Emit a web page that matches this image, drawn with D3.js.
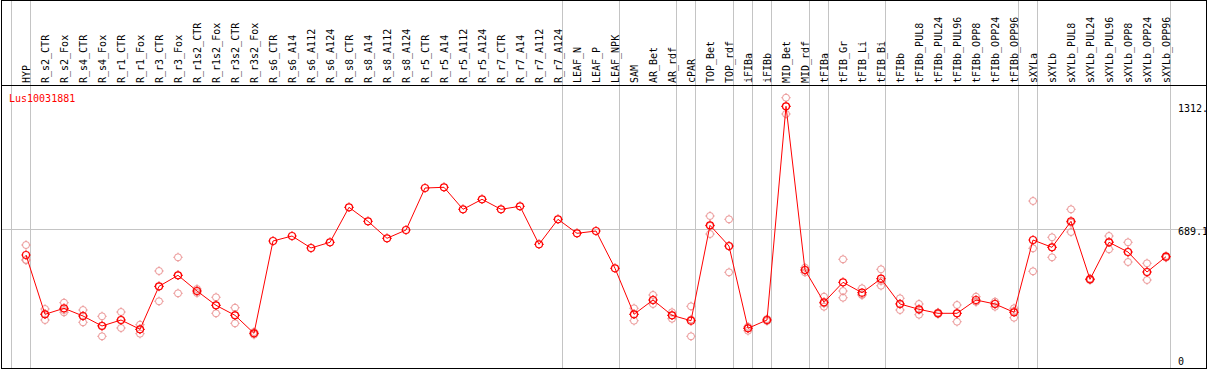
<!DOCTYPE html>
<html>
<head>
<meta charset="utf-8">
<script src="https://cdn.jsdelivr.net/npm/d3@7/dist/d3.min.js"></script>
<style>
  html, body { margin: 0; padding: 0; background: #fff; }
  svg text { font-family: "DejaVu Sans Mono", "Liberation Mono", monospace; font-size: 10px; }
</style>
</head>
<body>
<div id="chart"></div>
<script>

// gene shown in the plot
var geneName = "Lus10031881";

// sample names, left to right
var samples = [
  "HYP", "R_s2_CTR", "R_s2_Fox", "R_s4_CTR", "R_s4_Fox", "R_r1_CTR", "R_r1_Fox",
  "R_r3_CTR", "R_r3_Fox", "R_r1s2_CTR", "R_r1s2_Fox", "R_r3s2_CTR", "R_r3s2_Fox",
  "R_s6_CTR", "R_s6_A14", "R_s6_A112", "R_s6_A124", "R_s8_CTR", "R_s8_A14",
  "R_s8_A112", "R_s8_A124", "R_r5_CTR", "R_r5_A14", "R_r5_A112", "R_r5_A124",
  "R_r7_CTR", "R_r7_A14", "R_r7_A112", "R_r7_A124", "LEAF_N", "LEAF_P", "LEAF_NPK",
  "SAM", "AR_Bet", "AR_rdf", "cPAR", "TOP_Bet", "TOP_rdf", "iFIBa", "iFIBb",
  "MID_Bet", "MID_rdf", "tFIBa", "tFIB_Gr", "tFIB_Li", "tFIB_Bi", "tFIBb",
  "tFIBb_PUL8", "tFIBb_PUL24", "tFIBb_PUL96", "tFIBb_OPP8", "tFIBb_OPP24", "tFIBb_OPP96",
  "sXYLa", "sXYLb", "sXYLb_PUL8", "sXYLb_PUL24", "sXYLb_PUL96", "sXYLb_OPP8",
  "sXYLb_OPP24", "sXYLb_OPP96"
];

// first sample of every tissue group (a grey separator is drawn before each)
var groupStarts = [
  "HYP", "R_s2_CTR", "LEAF_N", "SAM", "cPAR", "TOP_Bet", "iFIBa", "iFIBb",
  "MID_Bet", "tFIBa", "tFIB_Gr", "tFIBb", "sXYLa", "sXYLb"
];

// mean expression per sample
var means = [
  554.9, 253.0, 283.6, 244.4, 193.5, 224.0, 176.7, 395.6, 451.6, 371.6, 298.8, 247.9, 156.3,
  626.2, 651.6, 590.6, 619.6, 797.8, 726.5, 639.9, 682.2, 896.0, 899.6, 787.6, 838.5,
  787.6, 802.9, 609.4, 736.7, 665.4, 677.1, 487.2,
  253.0, 325.8, 247.9, 220.4, 706.1, 600.7, 181.7, 224.0, 1312.0, 478.6,
  314.1, 415.9, 363.0, 434.3, 305.5, 278.5, 258.1, 258.1, 325.8, 305.5, 263.2,
  631.3, 594.1, 726.5, 431.2, 619.6, 570.2, 468.4, 546.3
];

// individual replicates per sample (empty where only one sample exists)
var replicates = [
  [605.8, 529.5, 529.5], [280.0, 254.6, 224.0], [312.1, 274.9, 263.2], [274.9, 244.4, 212.3],
  [242.8, 196.0, 141.0], [264.7, 224.0, 183.3], [200.1, 175.6, 154.3], [473.5, 393.5, 319.2],
  [543.2, 451.6, 359.9], [381.8, 371.6, 361.5], [339.6, 298.8, 258.1], [286.6, 249.5, 207.2],
  [162.9, 156.3, 149.2],
  [], [], [], [], [], [], [], [], [], [], [], [], [], [], [], [], [], [], [],
  [283.6, 253.0, 220.4], [351.3, 325.8, 305.5], [263.2, 247.9, 230.6], [293.7, 226.5, 141.0],
  [753.5, 702.6, 661.8], [736.7, 599.2, 466.8], [189.9, 183.3, 169.5], [229.1, 224.0, 218.9],
  [1355.7, 1312.0, 1272.8], [490.3, 478.6, 466.8],
  [342.6, 308.0, 291.7], [533.0, 371.6, 337.5], [385.4, 352.8, 351.3], [482.1, 422.6, 398.6],
  [334.5, 307.0, 274.9], [305.5, 274.9, 251.0], [262.2, 258.1, 254.0], [300.4, 258.1, 215.3],
  [342.6, 317.2, 317.2], [317.2, 307.5, 291.7], [283.6, 269.8, 235.7],
  [829.8, 589.0, 471.9], [645.0, 594.1, 543.2], [787.6, 719.4, 672.0], [435.3, 431.2, 427.1],
  [651.6, 622.6, 583.9], [619.6, 570.2, 519.3], [512.7, 468.4, 427.6], [550.8, 546.3, 541.7]
];

// labels on the right hand side
var axisTicks = [0, 689.1, 1312];
var axisLabels = ["0", "689.1", "1312."];

;(function() {

  var width = 1209, height = 370;
  var headerBottom = 85.5;   // line under the sample names
  var plotRight = 1206.5;

  var svg = d3.select("#chart").append("svg")
      .attr("width", width)
      .attr("height", height);

  svg.append("defs").append("clipPath")
      .attr("id", "frame-clip")
    .append("rect")
      .attr("x", 2)
      .attr("y", 1)
      .attr("width", plotRight - 2)
      .attr("height", 367);

  var root = svg.append("g").attr("clip-path", "url(#frame-clip)");

  // one 19px column per sample
  var x = d3.scaleBand()
      .domain(samples)
      .range([11.5, 11.5 + samples.length * 19]);

  var px = function(name) { return x(name) + 14.5; };

  var y = d3.scaleLinear()
      .domain([0, 1312])
      .range([364, 106.3]);

  // group separators, full height
  var sepX = groupStarts.map(function(s) { return Math.floor(x(s)) + 0.5; });
  sepX.push(Math.floor(x.range()[1]) + 0.5);

  root.selectAll("line.sep")
      .data(sepX)
      .enter()
    .append("line")
      .attr("class", "sep")
      .attr("x1", function(d) { return d; })
      .attr("x2", function(d) { return d; })
      .attr("y1", 0)
      .attr("y2", 369)
      .style("stroke", "#c4c4c4")
      .style("stroke-width", 1);

  // middle reference line
  root.append("line")
      .attr("x1", 2)
      .attr("x2", plotRight)
      .attr("y1", Math.round(y(axisTicks[1])) + 0.5)
      .attr("y2", Math.round(y(axisTicks[1])) + 0.5)
      .style("stroke", "#c4c4c4")
      .style("stroke-width", 1);

  // sample names, rotated, reading upward from the header line
  root.append("g").selectAll("text")
      .data(samples)
      .enter()
    .append("text")
      .attr("transform", function(d) {
        return "translate(" + (x(d) + 18) + ",83) rotate(-90)";
      })
      .style("fill", "#000")
      .text(function(d) { return d; });

  // gene name
  root.append("text")
      .attr("x", 9)
      .attr("y", 101.5)
      .style("fill", "#ff0000")
      .text(geneName);

  // right side value labels
  root.append("g").selectAll("text")
      .data(axisTicks)
      .enter()
    .append("text")
      .attr("x", 1178)
      .attr("y", function(d) { return Math.min(y(d) + 6, 365); })
      .style("fill", "#000")
      .text(function(d, i) { return axisLabels[i]; });

  // small circle with four ticks, like the original markers
  var marker = function(r) {
    var t = 1.2;
    return "M" + (-r) + ",0a" + r + "," + r + " 0 1,0 " + (2 * r) + ",0" +
           "a" + r + "," + r + " 0 1,0 " + (-2 * r) + ",0" +
           "M0," + (-r - t) + "v" + t + "M0," + r + "v" + t +
           "M" + (-r - t) + ",0h" + t + "M" + r + ",0h" + t;
  };

  // replicates first so the means sit on top
  var repPoints = [];
  samples.forEach(function(s, i) {
    replicates[i].forEach(function(v) { repPoints.push({ name: s, value: v }); });
  });

  root.append("g").selectAll("path")
      .data(repPoints)
      .enter()
    .append("path")
      .attr("d", marker(3.5))
      .attr("transform", function(d) {
        return "translate(" + px(d.name) + "," + y(d.value) + ")";
      })
      .style("fill", "none")
      .style("stroke", "#eb9595")
      .style("stroke-width", 1);

  var meanLine = d3.line()
      .x(function(d, i) { return px(samples[i]); })
      .y(function(d) { return y(d); });

  root.append("path")
      .datum(means)
      .attr("d", meanLine)
      .style("fill", "none")
      .style("stroke", "#ff0000")
      .style("stroke-width", 1);

  root.append("g").selectAll("path")
      .data(means)
      .enter()
    .append("path")
      .attr("d", marker(3.5))
      .attr("transform", function(d, i) {
        return "translate(" + px(samples[i]) + "," + y(d) + ")";
      })
      .style("fill", "none")
      .style("stroke", "#ff0000")
      .style("stroke-width", 1.2);

  // frame: outer box and the line under the header
  svg.append("rect")
      .attr("x", 1.5)
      .attr("y", 0.5)
      .attr("width", plotRight - 1.5)
      .attr("height", 368)
      .style("fill", "none")
      .style("stroke", "#000")
      .style("stroke-width", 1);

  svg.append("line")
      .attr("x1", 1.5)
      .attr("x2", plotRight)
      .attr("y1", headerBottom)
      .attr("y2", headerBottom)
      .style("stroke", "#000")
      .style("stroke-width", 1);

})();
</script>
</body>
</html>
